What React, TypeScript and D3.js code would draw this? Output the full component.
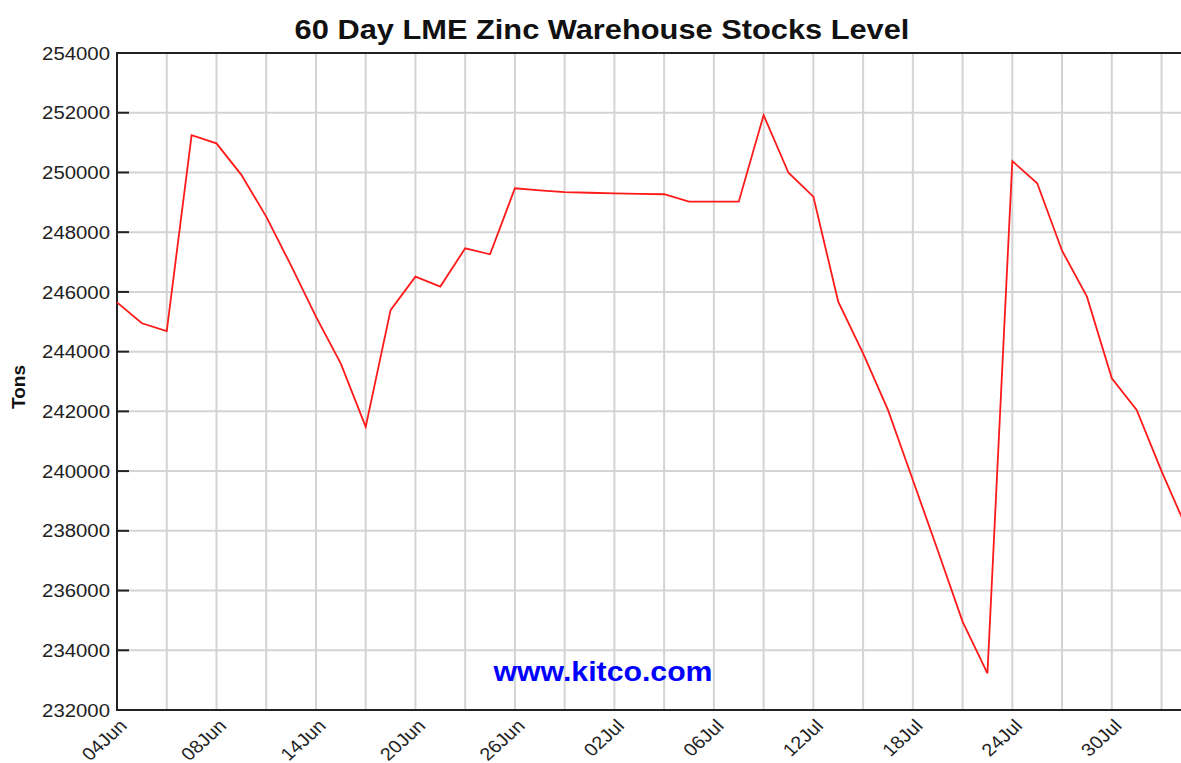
import React, { useEffect, useRef } from "react";
import * as d3 from "d3";

// trading days shown on the chart
const dates = [
  "04Jun", "05Jun", "06Jun", "07Jun", "08Jun", "11Jun", "12Jun", "13Jun", "14Jun", "15Jun",
  "18Jun", "19Jun", "20Jun", "21Jun", "22Jun", "25Jun", "26Jun", "27Jun", "28Jun", "29Jun",
  "02Jul", "03Jul", "04Jul", "05Jul", "06Jul", "09Jul", "10Jul", "11Jul", "12Jul", "13Jul",
  "16Jul", "17Jul", "18Jul", "19Jul", "20Jul", "23Jul", "24Jul", "25Jul", "26Jul", "27Jul",
  "30Jul", "31Jul", "01Aug", "02Aug",
];

// tons in LME warehouses
const stocks = [
  245650, 244950, 244690, 251250, 250975, 249920, 248520, 246880, 245170, 243600,
  241480, 245390, 246510, 246180, 247460, 247260, 249470, 249400, 249340, 249320,
  249300, 249280, 249270, 249020, 249020, 249020, 251920, 249990, 249190, 245670,
  243940, 242050, 239700, 237350, 234960, 233230, 250380, 249640, 247380, 245840,
  243110, 242050, 240000, 238100,
];

const labelDates = ["04Jun", "08Jun", "14Jun", "20Jun", "26Jun", "02Jul", "06Jul", "12Jul", "18Jul", "24Jul", "30Jul"];

const gridDates = dates.filter((d, i) => i % 2 === 0);

const yTickValues = [232000, 234000, 236000, 238000, 240000, 242000, 244000, 246000, 248000, 250000, 252000, 254000];

const Chart = () => {
  const ref = useRef<SVGSVGElement>(null);

  useEffect(() => {
    const width = 1181;
    const height = 763;
    const left = 117;
    const top = 53;
    const bottom = 710;
    const step = 24.87;
    const stretch = 1.1; // text in the original is a bit wide
    const font = "'Liberation Sans', Arial, sans-serif";

    const svg = d3.select(ref.current)
      .attr("width", width)
      .attr("height", height)
      .style("background", "#fff");

    svg.selectAll("*").remove();

    const x = d3.scalePoint<string>()
      .domain(dates)
      .range([left, left + step * (dates.length - 1)]);

    const y = d3.scaleLinear()
      .domain([232000, 254000])
      .range([bottom, top]);

    const right = x(dates[dates.length - 1])! + 10;

    // grid
    const grid = svg.append("g");
    grid.selectAll("line.v")
      .data(gridDates)
      .join("line")
      .attr("x1", d => x(d)!)
      .attr("x2", d => x(d)!)
      .attr("y1", top)
      .attr("y2", bottom)
      .attr("stroke", "#d4d4d4")
      .attr("stroke-width", 2);

    grid.selectAll("line.h")
      .data(yTickValues)
      .join("line")
      .attr("x1", left)
      .attr("x2", right)
      .attr("y1", d => y(d))
      .attr("y2", d => y(d))
      .attr("stroke", "#d4d4d4")
      .attr("stroke-width", 2);

    // frame
    svg.append("line")
      .attr("x1", left).attr("x2", right)
      .attr("y1", top).attr("y2", top)
      .attr("stroke", "#222").attr("stroke-width", 2);
    svg.append("line")
      .attr("x1", left).attr("x2", right)
      .attr("y1", bottom).attr("y2", bottom)
      .attr("stroke", "#222").attr("stroke-width", 2);
    svg.append("line")
      .attr("x1", left).attr("x2", left)
      .attr("y1", top - 1).attr("y2", bottom + 1)
      .attr("stroke", "#222").attr("stroke-width", 2);

    // y ticks (inside) + labels
    const yAxis = svg.append("g");
    yAxis.selectAll("line")
      .data(yTickValues)
      .join("line")
      .attr("x1", left)
      .attr("x2", left + 12)
      .attr("y1", d => y(d))
      .attr("y2", d => y(d))
      .attr("stroke", "#222")
      .attr("stroke-width", 2);

    yAxis.selectAll("text")
      .data(yTickValues)
      .join("text")
      .attr("transform", d => `translate(${left - 7},${y(d)}) scale(${stretch},1)`)
      .attr("text-anchor", "end")
      .attr("dominant-baseline", "central")
      .attr("font-family", font)
      .attr("font-size", "18.5px")
      .attr("fill", "#222")
      .text(d => String(d));

    // x labels
    svg.append("g")
      .selectAll("text")
      .data(labelDates)
      .join("text")
      .attr("transform", d => `translate(${x(d)! + 11},${bottom + 17}) scale(${stretch},1) rotate(-45)`)
      .attr("text-anchor", "end")
      .attr("font-family", font)
      .attr("font-size", "18px")
      .attr("fill", "#222")
      .text(d => d);

    // line
    const line = d3.line<number>()
      .x((d, i) => x(dates[i])!)
      .y(d => y(d));

    svg.append("path")
      .datum(stocks)
      .attr("d", line)
      .attr("fill", "none")
      .attr("stroke", "#ff1a1a")
      .attr("stroke-width", 1.8)
      .attr("stroke-linejoin", "miter");

    // watermark
    svg.append("text")
      .attr("transform", `translate(603,681) scale(${stretch},1)`)
      .attr("text-anchor", "middle")
      .attr("font-family", font)
      .attr("font-size", "27.5px")
      .attr("font-weight", "bold")
      .attr("fill", "#0000ff")
      .text("www.kitco.com");

    // title
    svg.append("text")
      .attr("transform", `translate(602,39) scale(${stretch},1)`)
      .attr("text-anchor", "middle")
      .attr("font-family", font)
      .attr("font-size", "28px")
      .attr("font-weight", "bold")
      .attr("fill", "#111")
      .text("60 Day LME Zinc Warehouse Stocks Level");

    // y label
    svg.append("text")
      .attr("transform", `translate(25,387) rotate(-90)`)
      .attr("text-anchor", "middle")
      .attr("font-family", font)
      .attr("font-size", "19px")
      .attr("font-weight", "bold")
      .attr("fill", "#111")
      .text("Tons");
  }, []);

  return <svg ref={ref} style={{ position: "absolute", left: 0, top: 0 }}></svg>;
};

export default function App() {
  return <Chart />;
}
